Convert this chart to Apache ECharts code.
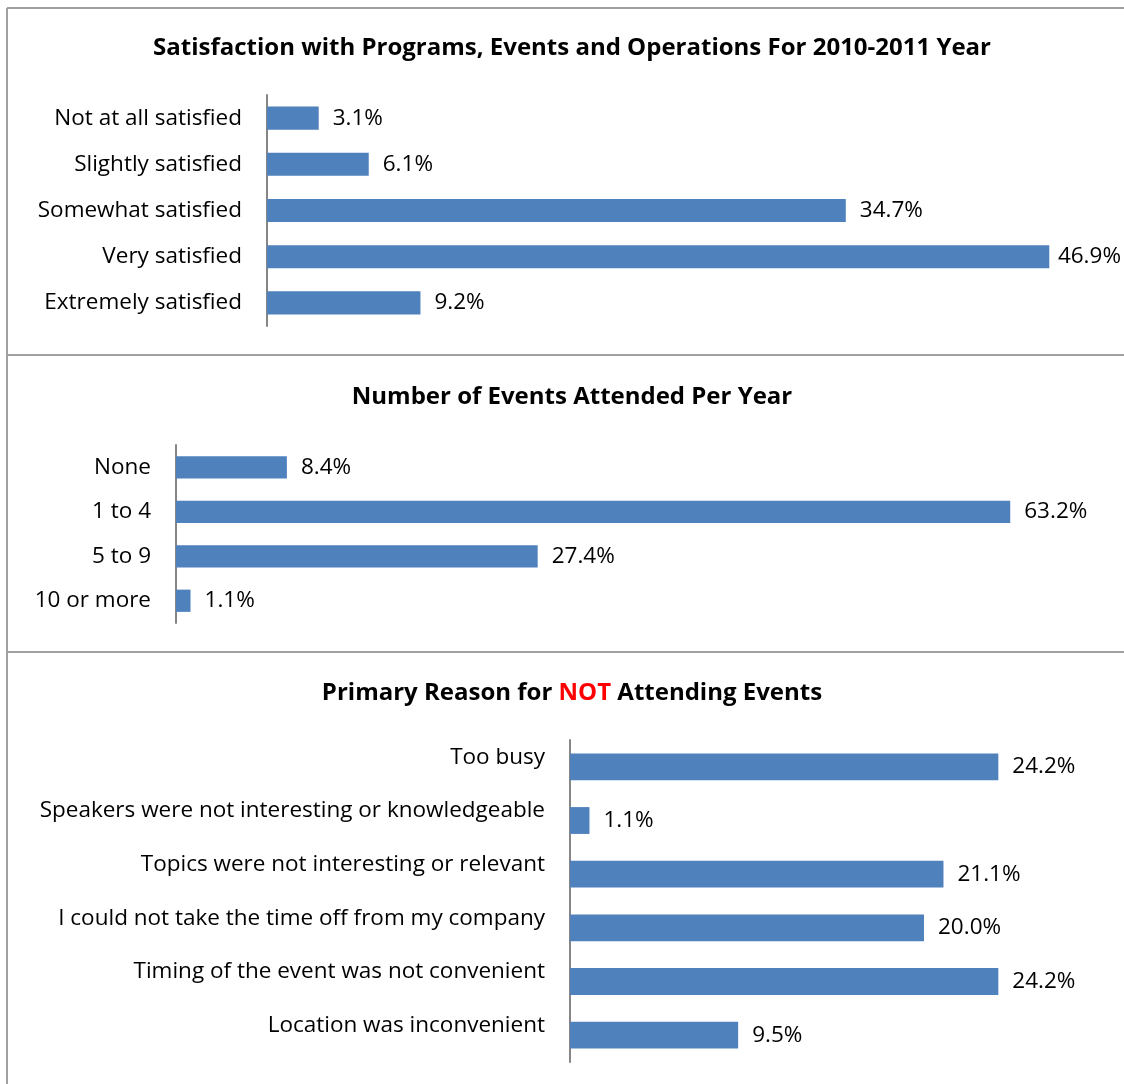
<!DOCTYPE html>
<html>
<head>
<meta charset="utf-8">
<script src="https://cdn.jsdelivr.net/npm/echarts@6/dist/echarts.min.js"></script>
<style>
  html, body { margin: 0; padding: 0; background: #fff; }
  #chart { width: 1124px; height: 1084px; }
</style>
</head>
<body>
<div id="chart"></div>
<script>
// satisfaction panel
const satisfactionCats = ["Not at all satisfied", "Slightly satisfied", "Somewhat satisfied", "Very satisfied", "Extremely satisfied"];
const satisfactionVals = [3.1, 6.1, 34.7, 46.9, 9.2];

// events attended panel
const attendedCats = ["None", "1 to 4", "5 to 9", "10 or more"];
const attendedVals = [8.4, 63.2, 27.4, 1.1];

// reasons for not attending
const reasonCats = [
  "Too busy",
  "Speakers were not interesting or knowledgeable",
  "Topics were not interesting or relevant",
  "I could not take the time off from my company",
  "Timing of the event was not convenient",
  "Location was inconvenient"
];
const reasonVals = [24.2, 1.1, 21.1, 20.0, 24.2, 9.5];

const FONT = "Open Sans";
const FS = 22.5;
const BAR = "#4f81bd";
const AXIS = "#868686";
const FRAME = "#a0a0a0";

function catAxis(idx, cats, valign) {
  return {
    type: "category",
    gridIndex: idx,
    inverse: true,
    data: cats,
    axisLine: { show: true, lineStyle: { color: AXIS, width: 2 } },
    axisTick: { show: false },
    axisLabel: {
      margin: 25,
      color: "#000",
      fontFamily: FONT,
      fontSize: FS,
      verticalAlign: valign || "middle",
      lineHeight: 19
    }
  };
}

function valAxis(idx, max) {
  return { type: "value", gridIndex: idx, min: 0, max: max, show: false };
}

function barSeries(idx, vals) {
  return {
    type: "bar",
    xAxisIndex: idx,
    yAxisIndex: idx,
    data: vals,
    barWidth: "50%",
    itemStyle: { color: BAR },
    label: {
      show: true,
      position: "right",
      distance: 14,
      color: "#000",
      fontFamily: FONT,
      fontSize: FS,
      formatter: (p) => p.value.toFixed(1) + "%"
    },
    // keep labels inside the page, like Excel nudges them in
    labelLayout: (params) => {
      const r = params.labelRect;
      const limit = 1121;
      if (r.x + r.width > limit) {
        return { x: limit - r.width, y: r.y + r.height / 2, align: "left", verticalAlign: "middle" };
      }
      return {};
    }
  };
}

const titleStyle = { fontFamily: FONT, fontSize: 24, fontWeight: "bold", color: "#000" };

const option = {
  animation: false,
  title: [
    { text: "Satisfaction with Programs, Events and Operations For 2010-2011 Year", left: 567, top: 31, textAlign: "center", textStyle: titleStyle },
    { text: "Number of Events Attended Per Year", left: 567, top: 380, textAlign: "center", textStyle: titleStyle },
    {
      text: "Primary Reason for {red|NOT} Attending Events",
      left: 567, top: 676, textAlign: "center",
      textStyle: Object.assign({}, titleStyle, {
        rich: { red: { fontFamily: FONT, fontSize: 24, fontWeight: "bold", color: "#ff0000" } }
      })
    }
  ],
  grid: [
    { left: 267, top: 95, width: 834, height: 231 },
    { left: 176, top: 445, width: 924, height: 178 },
    { left: 570, top: 740, width: 531, height: 322 }
  ],
  xAxis: [valAxis(0, 50), valAxis(1, 70), valAxis(2, 30)],
  yAxis: [
    catAxis(0, satisfactionCats),
    catAxis(1, attendedCats),
    catAxis(2, reasonCats, "bottom")
  ],
  series: [
    barSeries(0, satisfactionVals),
    barSeries(1, attendedVals),
    barSeries(2, reasonVals)
  ],
  graphic: [
    { type: "line", shape: { x1: 7, y1: 8, x2: 1124, y2: 8 }, style: { stroke: FRAME, lineWidth: 2 } },
    { type: "line", shape: { x1: 7, y1: 8, x2: 7, y2: 1084 }, style: { stroke: FRAME, lineWidth: 2 } },
    { type: "line", shape: { x1: 7, y1: 355, x2: 1124, y2: 355 }, style: { stroke: FRAME, lineWidth: 2 } },
    { type: "line", shape: { x1: 7, y1: 652, x2: 1124, y2: 652 }, style: { stroke: FRAME, lineWidth: 2 } }
  ]
};

const chart = echarts.init(document.getElementById("chart"));
chart.setOption(option);
</script>
</body>
</html>
